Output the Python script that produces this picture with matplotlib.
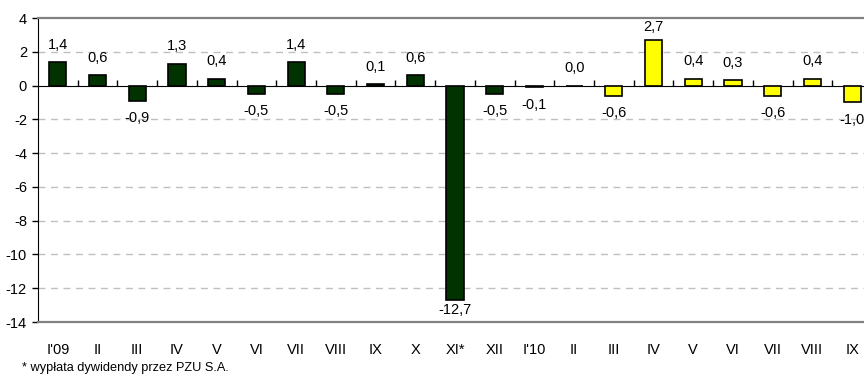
import matplotlib.pyplot as plt
import matplotlib.ticker as mticker

plt.rcParams['font.family'] = ['Liberation Sans', 'DejaVu Sans']
plt.rcParams['axes.unicode_minus'] = False

# Miesiące i zmiany (%, m/m)
months = ["I'09", 'II', 'III', 'IV', 'V', 'VI', 'VII', 'VIII', 'IX', 'X', 'XI*', 'XII',
          "I'10", 'II', 'III', 'IV', 'V', 'VI', 'VII', 'VIII', 'IX']
values_2009 = [1.4, 0.6, -0.9, 1.3, 0.4, -0.5, 1.4, -0.5, 0.1, 0.6, -12.7, -0.5]
values_2010 = [-0.1, 0.0, -0.6, 2.7, 0.4, 0.3, -0.6, 0.4, -1.0]
values = values_2009 + values_2010
y_ticks = list(range(-14, 5, 2))

colors = ['#003300'] * len(values_2009) + ['#ffff00'] * len(values_2010)
x = list(range(len(months)))

fig = plt.figure(figsize=(8.64, 3.77), dpi=100)
ax = fig.add_axes([38 / 864, 55 / 377, 834 / 864, 304 / 377])

ax.bar(x, values, width=0.43, color=colors, edgecolor='black', linewidth=1.2, zorder=3)

ax.set_xlim(-0.5, len(months) - 0.5)
ax.set_ylim(-14, 4)
ax.set_yticks(y_ticks)
ax.yaxis.set_major_formatter(mticker.FuncFormatter(lambda v, p: f'{int(v)}'))
ax.tick_params(axis='y', direction='out', length=4, width=1, labelsize=10.5, pad=4)

# siatka pozioma przerywana
for t in y_ticks:
    if t not in (0, -14, 4):
        ax.axhline(t, color='#c0c0c0', linestyle=(0, (5, 4)), linewidth=1, zorder=1)

# podpisy miesięcy pod wykresem
ax.set_xticks(x)
ax.set_xticklabels(months, fontsize=10.5)
ax.tick_params(axis='x', length=0, pad=15)

for side in ('top', 'bottom'):
    ax.spines[side].set_color('#808080')
    ax.spines[side].set_linewidth(1.6)
ax.spines['left'].set_color('black')
ax.spines['right'].set_visible(False)

# oś zerowa z kreskami między kategoriami
zero_axis = ax.secondary_xaxis(14 / 18)
zero_axis.set_xticks([i + 0.5 for i in x[:-1]])
zero_axis.set_xticklabels([])
zero_axis.tick_params(axis='x', direction='out', length=4, width=1)
zero_axis.spines['bottom'].set_color('black')
zero_axis.spines['bottom'].set_linewidth(1)

# etykiety wartości
for i, v in enumerate(values):
    label = f'{v:.1f}'.replace('.', ',')
    if v >= 0:
        off = 9 if v > 2 else 12.5
    else:
        off = -7 if v < -10 else -12.5
    ax.annotate(label, (i, v), textcoords='offset points', xytext=(0, off),
                ha='center', va='center', fontsize=10.5, zorder=4)

fig.text(22 / 864, 1 - 368 / 377, '* wypłata dywidendy przez PZU S.A.', fontsize=9.2,
         ha='left', va='center')

fig.savefig('out.png', dpi=100)
